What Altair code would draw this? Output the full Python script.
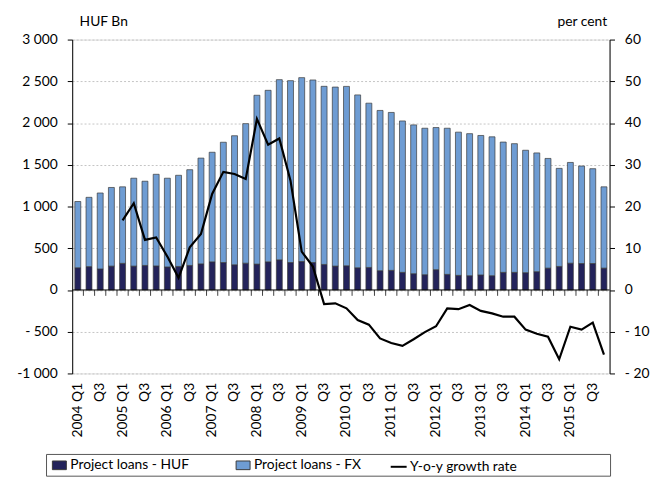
import altair as alt
import pandas as pd

years = list(range(2004, 2016))
quarters = [f"{y} Q{q}" for y in years for q in range(1, 5)]

huf = [266, 280, 252, 286, 319, 286, 294, 288, 276, 282, 294, 313,
       337, 329, 302, 321, 310, 337, 361, 329, 341, 329, 306, 286,
       290, 266, 270, 231, 235, 211, 195, 183, 243, 187, 175, 171,
       180, 171, 211, 211, 207, 219, 262, 282, 321, 317, 317, 262]
fx = [794, 830, 910, 942, 917, 1053, 1009, 1098, 1063, 1092, 1147, 1267,
      1313, 1441, 1546, 1672, 2023, 2055, 2159, 2179, 2203, 2187, 2134, 2145,
      2149, 2071, 1968, 1920, 1892, 1814, 1783, 1755, 1703, 1751, 1716, 1702,
      1671, 1664, 1561, 1542, 1467, 1423, 1314, 1175, 1207, 1168, 1136, 974]
growth_quarters = quarters[4:]
growth = [16.7, 20.8, 12.0, 12.6, 8.0, 2.9, 10.2, 13.4,
          23.0, 28.3, 27.8, 26.6, 41.0, 34.8, 36.3, 26.2,
          9.2, 5.6, -3.4, -3.2, -4.4, -7.2, -8.3, -11.6,
          -12.7, -13.4, -11.8, -10.1, -8.7, -4.4, -4.6, -3.6,
          -5.0, -5.6, -6.4, -6.4, -9.5, -10.5, -11.2, -16.6,
          -8.8, -9.5, -7.8, -15.5]

series_names = ["Project loans - HUF", "Project loans - FX"]
series_colors = ["#23235B", "#6E9CD3"]
line_name = "Y-o-y growth rate"

rows = []
for q, h, f in zip(quarters, huf, fx):
    rows.append({"q": q, "series": series_names[0], "value": h, "ord": 0})
    rows.append({"q": q, "series": series_names[1], "value": f, "ord": 1})
df_bars = pd.DataFrame(rows)
df_line = pd.DataFrame({"q": growth_quarters, "g": growth, "lab": line_name})
df_ticks = pd.DataFrame({"q": quarters[1:]})
df_one = pd.DataFrame({"a": [0]})

FONT = "Lato"
FS = 14
xscale = alt.Scale(domain=quarters, paddingInner=0, paddingOuter=0)
lscale = alt.Scale(domain=[-1000, 3000], nice=False, zero=False)
rscale = alt.Scale(domain=[-20, 60], nice=False, zero=False)

left_labels = ("datum.value < 0 ? (datum.value <= -1000 ? '-' : '- ') + "
               "replace(format(-datum.value, ','), ',', ' ') : "
               "replace(format(datum.value, ','), ',', ' ')")
right_labels = ("datum.value < 0 ? '- ' + format(-datum.value, 'd') : "
                "format(datum.value, 'd')")
x_labels = ("indexof(datum.value, 'Q1') >= 0 ? datum.value : "
            "(indexof(datum.value, 'Q3') >= 0 ? 'Q3' : '')")

bars = alt.Chart(df_bars).mark_bar(size=6, stroke="#3a3a3a", strokeWidth=0.7).encode(
    x=alt.X("q:N", scale=xscale, sort=quarters,
            axis=alt.Axis(title=None, labelAngle=270, labelExpr=x_labels,
                          domain=False, ticks=False, labelPadding=9,
                          labelFont=FONT, labelFontSize=FS, labelColor="black",
                          grid=False)),
    y=alt.Y("value:Q", stack="zero", scale=lscale,
            axis=alt.Axis(title="HUF Bn", titleAngle=0, titleX=7, titleY=-11,
                          titleAlign="left", titleBaseline="bottom",
                          titleFont=FONT, titleFontSize=FS, titleFontWeight="normal",
                          titleColor="black",
                          values=list(range(-1000, 3001, 500)), labelExpr=left_labels,
                          labelFont=FONT, labelFontSize=FS, labelColor="black",
                          labelPadding=10,
                          tickSize=5, tickColor="black", domainColor="black",
                          grid=True, gridDash=[2, 2], gridColor="#c4c4c4")),
    color=alt.Color("series:N",
                    scale=alt.Scale(domain=series_names, range=series_colors),
                    legend=alt.Legend(orient="none", legendX=-21, legendY=423,
                                      direction="horizontal", title=None,
                                      symbolType="M-1,-0.62H1V0.62H-1Z", symbolSize=200,
                                      symbolStrokeColor="#3a3a3a", symbolStrokeWidth=1,
                                      labelFont=FONT, labelFontSize=FS,
                                      labelColor="black", columnPadding=44,
                                      labelOffset=3, padding=0)),
    order=alt.Order("ord:Q", sort="ascending"),
)

ticks = alt.Chart(df_ticks).mark_rule(color="#404040", strokeWidth=1).encode(
    x=alt.X("q:N", scale=xscale, sort=quarters, bandPosition=0),
    y=alt.Y(datum=0, scale=lscale),
    y2=alt.Y2(datum=-70),
)

zero = alt.Chart(df_one).mark_rule(color="black", strokeWidth=1).encode(
    y=alt.Y(datum=0, scale=lscale),
)

legend_box = alt.Chart(df_one).mark_rect(fill="white", stroke="#555555",
                                         strokeWidth=1).encode(
    x=alt.value(-26), x2=alt.value(545), y=alt.value(420), y2=alt.value(442),
)

inner = alt.layer(legend_box, bars, ticks, zero)

line = alt.Chart(df_line).mark_line(color="black", strokeWidth=2.2).encode(
    x=alt.X("q:N", scale=xscale, sort=quarters),
    y=alt.Y("g:Q", scale=rscale,
            axis=alt.Axis(orient="right", title="per cent", titleAngle=0,
                          titleX=-3, titleY=-11, titleAlign="right",
                          titleBaseline="bottom", titleFont=FONT, titleFontSize=FS,
                          titleFontWeight="normal", titleColor="black",
                          values=list(range(-20, 61, 10)), labelExpr=right_labels,
                          labelFont=FONT, labelFontSize=FS, labelColor="black",
                          labelPadding=10,
                          tickSize=5, tickColor="black", domainColor="black",
                          grid=False)),
    stroke=alt.Stroke("lab:N", scale=alt.Scale(domain=[line_name], range=["black"]),
                      legend=alt.Legend(orient="none", legendX=321, legendY=423,
                                        title=None, symbolType="stroke",
                                        symbolSize=260, symbolStrokeWidth=2,
                                        labelFont=FONT, labelFontSize=FS,
                                        labelColor="black", labelOffset=2,
                                        padding=0)),
)

chart = alt.layer(inner, line).resolve_scale(
    y="independent", color="independent", stroke="independent"
).properties(
    width=544, height=338,
    autosize="none",
    padding={"left": 65, "top": 29, "right": 46, "bottom": 113},
).configure_view(stroke="black", strokeWidth=1).configure(background="white")

chart.save("out.html", embed_options={"renderer": "svg", "actions": False})
